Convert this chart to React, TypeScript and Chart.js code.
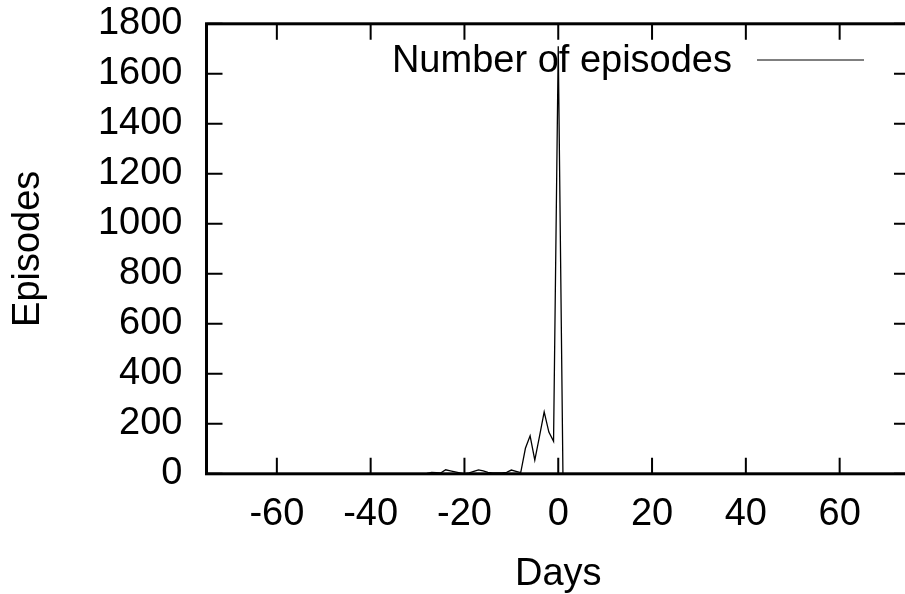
import React, { useEffect, useRef } from "react";
import { Chart, registerables } from "chart.js";

Chart.register(...registerables);

const days = [
  -30, -29, -28, -27, -26, -25, -24, -23, -22, -21, -20, -19, -18, -17, -16, -15,
  -14, -13, -12, -11, -10, -9, -8, -7, -6, -5, -4, -3, -2, -1, 0, 1,
];
const episodes = [
  0, 0, 2, 6, 5, 4, 16, 12, 8, 4, 0, 4, 10, 16, 12, 6,
  4, 4, 4, 6, 15, 10, 5, 102, 152, 55, 150, 248, 167, 130, 1710, 0,
];
const xTickValues = [-60, -40, -20, 0, 20, 40, 60];
const yTickValues = [0, 200, 400, 600, 800, 1000, 1200, 1400, 1600, 1800];
const seriesLabel = "Number of episodes";
const xTitle = "Days";
const yTitle = "Episodes";

const FONT = '"Liberation Sans", Arial, Helvetica, sans-serif';
const FONT_SIZE = 38;

export default function App() {
  const ref = useRef<HTMLCanvasElement>(null);

  useEffect(() => {
    if (!ref.current) return;

    const framePlugin = {
      id: "gnuframe",
      afterDatasetsDraw(chart: any) {
        const { ctx, chartArea: a, scales } = chart;
        ctx.save();
        ctx.strokeStyle = "#000";
        const TL = 16;
        ctx.lineWidth = 2;
        ctx.beginPath();
        xTickValues.forEach((v) => {
          const px = scales.x.getPixelForValue(v);
          ctx.moveTo(px, a.bottom);
          ctx.lineTo(px, a.bottom - TL);
          ctx.moveTo(px, a.top);
          ctx.lineTo(px, a.top + TL);
        });
        yTickValues.forEach((v) => {
          const py = scales.y.getPixelForValue(v);
          ctx.moveTo(a.left, py);
          ctx.lineTo(a.left + TL, py);
          ctx.moveTo(a.right, py);
          ctx.lineTo(a.right - TL, py);
        });
        ctx.stroke();
        ctx.lineWidth = 3;
        ctx.strokeRect(a.left, a.top, a.right - a.left, a.bottom - a.top);

        // key
        ctx.font = `${FONT_SIZE}px ${FONT}`;
        ctx.fillStyle = "#000";
        ctx.textAlign = "right";
        ctx.textBaseline = "middle";
        ctx.fillText(seriesLabel, 732, 62);
        ctx.lineWidth = 1;
        ctx.beginPath();
        ctx.moveTo(757, 60);
        ctx.lineTo(864, 60);
        ctx.stroke();
        ctx.restore();
      },
    };

    const font = { family: FONT, size: FONT_SIZE };
    const titleFont = { family: FONT, size: FONT_SIZE, lineHeight: 1 };

    const chart = new Chart(ref.current, {
      type: "line",
      data: {
        datasets: [
          {
            label: seriesLabel,
            data: days.map((d, i) => ({ x: d, y: episodes[i] })),
            borderColor: "#000",
            borderWidth: 1.3,
            pointRadius: 0,
            tension: 0,
            fill: false,
          },
        ],
      },
      options: {
        responsive: false,
        animation: false,
        devicePixelRatio: 1,
        layout: { padding: { top: 23.8, right: 10, left: 0, bottom: 0 } },
        plugins: {
          legend: { display: false },
          tooltip: { enabled: false },
        },
        scales: {
          x: {
            type: "linear",
            min: -75,
            max: 75,
            afterBuildTicks: (s: any) => {
              s.ticks = xTickValues.map((v) => ({ value: v }));
            },
            afterFit: (s: any) => {
              s.height = 120.2;
              s.paddingLeft = 0;
              s.paddingRight = 0;
              s.paddingTop = 0;
              s.paddingBottom = 0;
            },
            grid: { display: false, drawTicks: false },
            border: { display: false },
            ticks: {
              font,
              color: "#000",
              padding: 18,
              maxRotation: 0,
              autoSkip: false,
              callback: (v: any) => String(v),
            },
            title: {
              display: true,
              text: xTitle,
              font: titleFont,
              color: "#000",
              padding: { top: 0, bottom: 0 },
            },
          },
          y: {
            type: "linear",
            min: 0,
            max: 1800,
            afterBuildTicks: (s: any) => {
              s.ticks = yTickValues.map((v) => ({ value: v }));
            },
            afterFit: (s: any) => {
              s.width = 206.5;
              s.paddingLeft = 0;
              s.paddingRight = 0;
              s.paddingTop = 0;
              s.paddingBottom = 0;
            },
            grid: { display: false, drawTicks: false },
            border: { display: false },
            ticks: {
              font,
              color: "#000",
              padding: 24,
              autoSkip: false,
              callback: (v: any) => String(v),
            },
            title: {
              display: true,
              text: yTitle,
              font: titleFont,
              color: "#000",
              padding: { top: 10, bottom: 0 },
            },
          },
        },
      },
      plugins: [framePlugin],
    });

    return () => chart.destroy();
  }, []);

  return (
    <div
      style={{
        position: "fixed",
        left: 0,
        top: 0,
        width: 905,
        height: 594,
        overflow: "hidden",
        background: "#fff",
      }}
    >
      <canvas ref={ref} width={920} height={594} style={{ width: 920, height: 594, display: "block" }} />
    </div>
  );
}
